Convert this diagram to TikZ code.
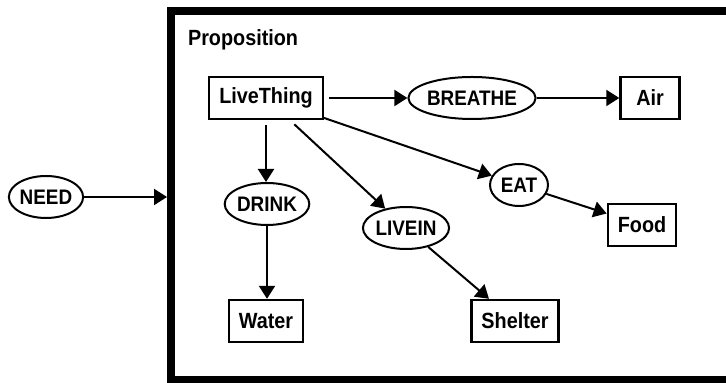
\documentclass[tikz,border=0pt]{standalone}
\usepackage{fontspec}
\setmainfont{Liberation Sans}[FakeStretch=0.9]
\usetikzlibrary{arrows.meta,shapes.geometric}
\begin{document}
\begin{tikzpicture}[x=0.5pt,y=-0.5pt,
    concept/.style={draw, line width=1.2pt, font=\fontsize{11}{13}\selectfont\bfseries,
        minimum height=21pt, inner xsep=5pt, inner ysep=0pt},
    relation/.style={draw, ellipse, line width=1pt, font=\fontsize{10.5}{12}\selectfont\bfseries,
        minimum height=21pt, inner sep=0pt},
    link/.style={line width=1pt, -{Triangle[length=6.5pt,width=8pt]}}]
    \useasboundingbox (0,0) rectangle (726,383);
    % context box
    \node[draw, line width=4pt, minimum width=285pt, minimum height=184.5pt] (prop) at (456,195.5) {};
    \node[anchor=west, font=\fontsize{11}{13}\selectfont\bfseries] (proplabel) at (181,40) {Proposition};
    % concepts
    \node[concept] (live) at (266,98) {LiveThing};
    \node[concept, minimum width=29.5pt] (air) at (650,98) {Air};
    \node[concept] (food) at (642,225) {Food};
    \node[concept] (water) at (266,321) {Water};
    \node[concept] (shelter) at (515,321) {Shelter};
    % relations
    \node[relation, minimum width=34pt] (need) at (46,197) {NEED};
    \node[relation, minimum width=52.5pt] (breathe) at (472,98) {BREATHE};
    \node[relation, minimum width=38.5pt] (drink) at (267,204) {DRINK};
    \node[relation, minimum width=39pt] (livein) at (406,228) {LIVEIN};
    \node[relation, minimum width=29pt] (eat) at (519,185) {EAT};
    % arcs
    \draw[link] (need) -- (need -| prop.west);
    \draw[link, shorten <=2.5pt] (live) -- (breathe);
    \draw[link] (breathe) -- (air);
    \draw[link, shorten <=2.5pt] (live) -- (live |- drink.north);
    \draw[link] (drink) -- (drink |- water.north);
    \draw[link, shorten <=3pt] (live) -- (livein);
    \draw[link] (livein) -- (shelter);
    \draw[link] (live) -- (eat);
    \draw[link] (eat) -- (food);
\end{tikzpicture}
\end{document}
